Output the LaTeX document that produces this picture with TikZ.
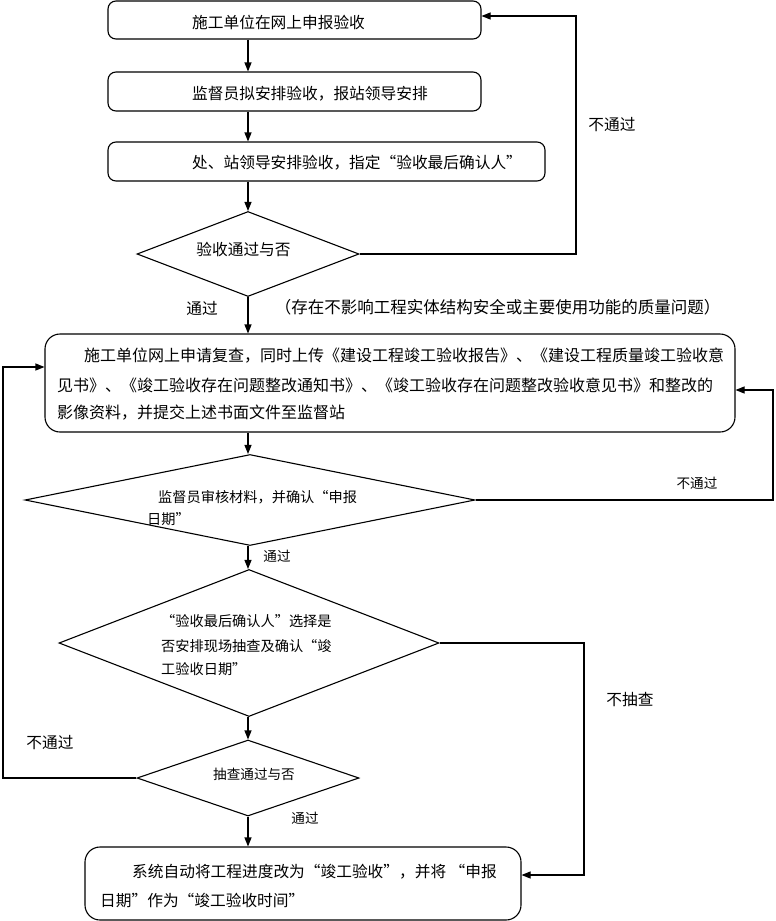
\documentclass[tikz,border=0pt]{standalone}
\usepackage{fontspec}
\setmainfont{Noto Sans CJK SC}
\usetikzlibrary{shapes.geometric,arrows.meta}
\begin{document}
\begin{tikzpicture}[x=1pt,y=-1pt,
  box/.style={draw, line width=1.1pt, rounded corners=8pt, inner sep=0pt},
  bigbox/.style={box, rounded corners=15pt},
  dia/.style={draw, diamond, line width=1.1pt, inner sep=0pt, aspect=1},
  txt/.style={inner sep=0pt, font=\fontsize{15.7}{18}\selectfont},
  btxt/.style={inner sep=0pt, font=\fontsize{16}{18}\selectfont},
  mtxt/.style={inner sep=0pt, font=\fontsize{14.2}{17}\selectfont},
  stxt/.style={inner sep=0pt, font=\fontsize{13.6}{16}\selectfont},
  arr/.style={line width=1.1pt, -{Triangle[length=9pt,width=7pt]}}]
\fill[white] (0,0) rectangle (776,921);
\useasboundingbox (0,0) rectangle (776,921);

% boxes
\node[box, minimum width=373pt, minimum height=38pt] (b1) at (294.5,20) {};
\node[box, minimum width=373pt, minimum height=39pt] (b2) at (294.5,91.5) {};
\node[box, minimum width=437pt, minimum height=39pt] (b3) at (326.5,161.5) {};
\node[dia, minimum width=222pt, minimum height=85pt] (d1) at (248,254) {};
\node[bigbox, minimum width=690pt, minimum height=98pt] (bb) at (390,383) {};
\node[dia, minimum width=450pt, minimum height=91pt] (d2) at (250,500) {};
\node[dia, minimum width=380pt, minimum height=147pt] (d3) at (249,643) {};
\node[dia, minimum width=222pt, minimum height=76pt] (d4) at (248,778) {};
\node[bigbox, minimum width=436pt, minimum height=73pt] (b4) at (303,883.5) {};

% texts
\node[txt, anchor=west] (t1) at (192,22) {施工单位在网上申报验收};
\node[txt, anchor=west] (t2) at (192,94) {监督员拟安排验收，报站领导安排};
\node[txt, anchor=west] (t3) at (192,163) {处、站领导安排验收，指定“验收最后确认人”};
\node[txt] (t4) at (243.5,249) {验收通过与否};
\node[txt] (l1) at (612,125) {不通过};
\node[txt] (l2) at (202,308) {通过};
\node[inner sep=0pt, font=\fontsize{16.5}{18}\selectfont] (l3) at (497.5,307) {（存在不影响工程实体结构安全或主要使用功能的质量问题）};
\node[btxt, anchor=west] (t5) at (84,356) {施工单位网上申请复查，同时上传《建设工程竣工验收报告》、《建设工程质量竣工验收意};
\node[btxt, anchor=west] (t6) at (57,385) {见书》、《竣工验收存在问题整改通知书》、《竣工验收存在问题整改验收意见书》和整改的};
\node[btxt, anchor=west] (t7) at (57,413) {影像资料，并提交上述书面文件至监督站};
\node[mtxt, anchor=west] (t8) at (158,497) {监督员审核材料，并确认“申报};
\node[mtxt, anchor=west] (t9) at (147,519) {日期”};
\node[stxt] (l4) at (697,483) {不通过};
\node[stxt] (l5) at (277,556) {通过};
\node[mtxt, anchor=west] (t10) at (161,621) {“验收最后确认人”选择是};
\node[mtxt, anchor=west] (t11) at (161,646) {否安排现场抽查及确认“竣};
\node[mtxt, anchor=west] (t12) at (161,669) {工验收日期”};
\node[txt] (l6) at (630,700) {不抽查};
\node[txt] (l7) at (50,743) {不通过};
\node[stxt] (t13) at (254,774) {抽查通过与否};
\node[stxt] (l8) at (305,818) {通过};
\node[txt, anchor=west] (t14) at (132,872) {系统自动将工程进度改为“竣工验收”，并将 “申报};
\node[txt, anchor=west] (t15) at (100,900) {日期”作为“竣工验收时间”};

% connectors
\draw[arr] (b1.south -| d1.north) -- (b2.north -| d1.north);
\draw[arr] (b2.south -| d1.north) -- (b3.north -| d1.north);
\draw[arr] (b3.south -| d1.north) -- (d1.north);
\draw[arr] (d1.south) -- (d1.south |- bb.north);
\coordinate (c1) at (576,16);
\draw[arr] (d1.east) -| (c1) -- (c1 -| b1.east);
\draw[arr] (bb.south -| d1.north) -- (d2.north -| d1.north);
\coordinate (c2) at (773,390);
\draw[arr] (d2.east) -| (c2) -- (c2 -| bb.east);
\draw[arr] (d2.south -| d1.north) -- (d3.north -| d1.north);
\coordinate (c3) at (584,875);
\draw[arr] (d3.east) -| (c3) -- (c3 -| b4.east);
\draw[arr] (d3.south -| d1.north) -- (d4.north);
\coordinate (c4) at (3,367);
\draw[arr] (d4.west) -| (c4) -- (c4 -| bb.west);
\draw[arr] (d4.south) -- (d4.south |- b4.north);
\end{tikzpicture}
\end{document}
